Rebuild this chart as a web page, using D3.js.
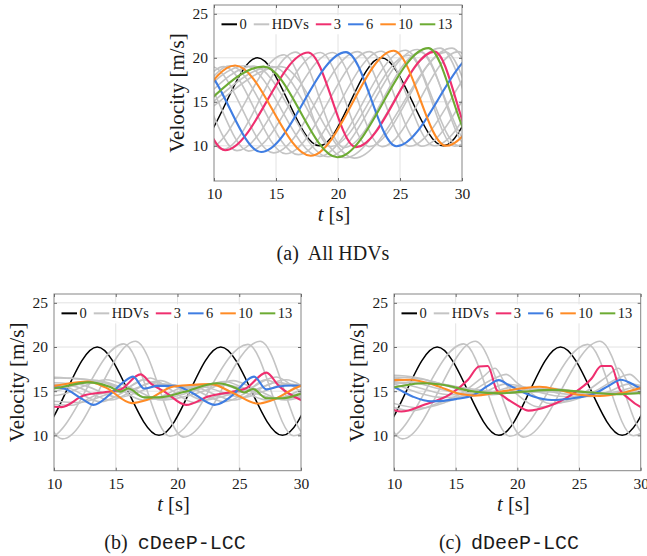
<!DOCTYPE html>
<html>
<head>
<meta charset="utf-8">
<script src="https://cdn.jsdelivr.net/npm/d3@7"></script>
<style>
  body { margin: 0; background: #fff; }
  text { fill: #1a1a1a; }
  .serif, .serif text { font-family: "Liberation Serif", "DejaVu Serif", serif; }
  .mono { font-family: "Liberation Mono", "DejaVu Sans Mono", monospace; }
</style>
</head>
<body>
<svg id="fig" width="647" height="556"></svg>
<script>
/*
  velocity profiles of a mixed platoon, three cases
  every series is a list of [t, v] points
  (mostly turning points); d3.curveMonotoneX joins them,
  points outside 10..30 are only there to settle the ends
*/

var tTicks = [10, 15, 20, 25, 30];
var vTicks = [10, 15, 20, 25];
var tDomain = [10, 30];
var vDomain = [6, 26];

var legendLabels = ["0", "HDVs", "3", "6", "10", "13"];
var legendColors = ["#000000", "#c4c4c4", "#ef2f6f", "#3f7de2", "#ff8b25", "#6cab33"];
var cavColors = ["#ef2f6f", "#3f7de2", "#ff8b25", "#6cab33"];

// head vehicle 0 (same in every case)
var leader = [[3.5,20],[8.5,10],[13.5,20],[18.5,10],[23.5,20],[28.5,10],[33.5,20],[38.5,10]];

// vehicles 1 and 2 (ahead of the first CAV, same in every case)
var hdv1 = [[0.5,10],[5.4,19.3],[9.4,9.6],[15.65,20.35],[19.4,9.9],[25.7,20.3],[29.4,9.95],[35.7,20.3],[39.5,10]];
var hdv2 = [[1.5,10],[6.5,19.5],[10.7,9.6],[16.6,20.65],[20.5,9.8],[26.7,20.65],[30.5,9.9],[36.7,20.6],[40.5,10]];

// (a) all HDVs
var a4  = [[2.5,10],[7.6,19.0],[11.85,9.45],[18.6,20.6],[22.5,9.9],[28.7,20.65],[32.6,9.9],[39,20.6]];
var a5  = [[3.5,10],[8.4,19.0],[12.8,9.4],[19.6,20.6],[23.55,9.9],[29.7,20.7],[33.6,9.9],[40,20.6]];
var a7  = [[4.5,10.5],[9.8,19.0],[14.8,9.2],[21.6,20.7],[25.75,9.95],[32.5,20.7],[36.5,10]];
var a8  = [[1,19],[6.0,12.0],[10.8,19.0],[15.8,9.1],[22.55,20.7],[26.75,9.95],[33.5,20.8],[37.5,10]];
var a9  = [[1,19],[6.5,12.5],[11.3,19.1],[16.8,9.0],[23.5,20.75],[27.75,10.0],[34.5,20.8],[38.5,10]];
var a11 = [[0,19],[5.0,12.0],[12.5,19.1],[18.5,8.8],[25.45,20.85],[29.75,10.0],[36.4,20.9],[40.5,10]];
var a12 = [[0,19],[5.4,12.0],[13.2,19.05],[19.2,8.75],[26.4,20.95],[30.8,10.0],[37.5,21]];
var a14 = [[0,19],[6.0,12.0],[14.7,19.0],[20.6,8.65],[28.25,21.1],[32.3,10.0],[39,21]];
var a15 = [[0,19],[6.3,12.0],[15.4,19.0],[21.3,8.6],[29.2,21.1],[33.2,10.0],[40,21]];
var a3  = [[2,10],[6.8,19.0],[10.9,9.5],[17.6,20.6],[21.45,9.85],[27.8,20.7],[31.2,9.9],[37.5,20.7]];
var a6  = [[3.8,10],[8.8,19.0],[13.8,9.3],[20.65,20.65],[24.7,9.95],[31.5,20.7],[35.5,10]];
var a10 = [[1,19],[6.2,12.0],[11.7,19.13],[17.8,8.87],[24.5,20.8],[28.7,10.0],[35.5,20.8],[39.5,10]];
var a13 = [[0,19],[5.8,12.0],[14.0,19.0],[19.95,8.7],[27.3,21.1],[31.1,10.0],[38,21]];

// (b) cDeeP-LCC
var b4  = [[9,13.6],[11.4,13.4],[13.5,14.6],[15.5,15.1],[17.8,16.5],[19.3,15.3],[21.4,13.7],[23.5,14.6],[25.5,15.1],[28.0,16.6],[29.5,15.4],[31,14.0]];
var b5  = [[9,14.0],[12.0,13.7],[14.5,14.7],[16.3,15.2],[18.6,16.2],[20.0,15.4],[22.1,14.0],[24.5,14.7],[26.3,15.2],[28.8,16.3],[30.3,15.4]];
var b7  = [[9,15.6],[10.8,15.5],[13.8,13.8],[15.5,14.8],[17.2,16.3],[18.5,15.7],[20.5,15.6],[23.8,13.8],[25.5,14.8],[27.1,16.3],[28.5,15.7],[30.5,15.6]];
var b8  = [[9,15.8],[11.5,15.6],[14.6,14.0],[16.2,14.9],[18.0,16.0],[19.3,15.7],[21.3,15.5],[24.6,14.0],[26.2,14.9],[28.0,16.0],[29.3,15.7],[31,15.5]];
var b9  = [[9,16.0],[12.0,15.8],[15.3,14.3],[17.0,15.0],[18.8,15.8],[20.3,15.6],[22.0,15.5],[25.3,14.3],[27.0,15.0],[28.8,15.8],[30.3,15.6]];
var b11 = [[9,16.4],[10.5,16.5],[13.5,16.2],[15.2,15.3],[17.2,14.0],[18.5,14.3],[20.2,15.3],[23.4,15.8],[25.2,15.0],[27.3,14.0],[28.5,14.3],[30.2,15.3]];
var b12 = [[9,16.6],[11,16.5],[14.0,16.0],[15.8,15.2],[17.8,14.2],[19.2,14.5],[20.9,15.3],[24.0,15.7],[25.8,15.0],[27.9,14.2],[29.2,14.5],[31,15.3]];
var b14 = [[9,14.8],[10,15.0],[13.5,16.2],[15.5,15.4],[18.0,14.1],[19.5,14.3],[21.5,15.1],[23.8,16.1],[25.5,15.3],[28.0,14.1],[29.5,14.3],[31,15.0]];
var b15 = [[9,14.4],[10.5,14.6],[14.2,16.3],[16.2,15.4],[18.7,14.0],[20.3,14.3],[22.3,15.1],[24.5,16.2],[26.2,15.3],[28.7,14.0],[30.3,14.4]];
var b3  = [[9,13.4],[10.6,13.2],[12.4,14.5],[14.2,14.9],[15.4,15.2],[17.0,16.9],[17.9,15.8],[19.0,14.9],[20.7,13.45],[22.5,14.4],[24.5,14.95],[25.5,15.3],[27.2,17.1],[28.2,15.6],[30,14.0],[31,13.5]];
var b6  = [[9,15.6],[10.8,15.3],[12.3,14.1],[13.2,13.45],[14.5,14.6],[15.7,16.1],[16.4,16.65],[17.3,15.3],[18.4,15.6],[19.8,15.6],[21.2,14.8],[23.0,13.45],[24.5,14.6],[25.6,16.2],[26.2,16.65],[27.2,15.2],[28.1,15.5],[29.2,15.65],[30,15.6],[31,15.3]];
var b10 = [[9,15.4],[10,15.6],[12.7,16.1],[14.2,15.4],[16.3,13.65],[17.5,14.0],[19.6,15.5],[21.0,15.7],[22.7,15.8],[24.5,14.8],[26.5,13.6],[27.7,14.0],[30,15.6],[31,15.8]];
var b13 = [[9,15.2],[10,15.3],[12.8,16.0],[14.5,15.5],[15.4,14.95],[16.0,15.3],[17.3,14.3],[18.5,14.3],[20.5,14.9],[23.2,15.9],[24.8,15.3],[25.4,14.85],[26.1,15.25],[27.2,14.2],[28.5,14.2],[30,14.7],[31,15.0]];

// (c) dDeeP-LCC
var c4  = [[9,13.6],[11.4,12.8],[13.5,13.6],[15.5,14.8],[17.2,16.6],[18.2,17.6],[19.0,15.9],[20.0,14.6],[21.8,13.2],[23.5,13.7],[25.5,14.9],[27.2,16.6],[28.2,17.6],[29.0,15.9],[30,14.6],[31.8,13.2]];
var c5  = [[9,14.0],[12.2,13.1],[14.3,13.8],[16.3,15.0],[18.2,16.5],[19.1,16.9],[20.0,15.9],[21.0,14.9],[22.6,13.6],[24.3,13.9],[26.3,15.0],[28.2,16.5],[29.1,16.9],[30.0,15.9],[31,14.9]];
var c7  = [[9,16.0],[10,15.8],[12.0,14.8],[13.8,14.3],[15.8,14.4],[17.5,15.0],[19.0,15.8],[20.5,15.5],[22.0,14.8],[23.8,14.4],[25.8,14.4],[27.5,15.0],[29.0,15.8],[30.5,15.5]];
var c8  = [[9,16.3],[10,16.1],[12.5,15.2],[14.5,14.6],[16.5,14.6],[18.2,15.0],[19.8,15.5],[21.2,15.3],[22.8,14.9],[24.5,14.6],[26.5,14.6],[28.2,15.0],[29.8,15.5],[31,15.3]];
var c9  = [[9,16.6],[10,16.5],[13.0,15.5],[15.2,14.8],[17.2,14.7],[19.0,15.0],[20.8,15.4],[22.5,15.2],[25.2,14.8],[27.2,14.7],[29.0,15.0],[30.8,15.4]];
var c11 = [[9,16.7],[10,16.8],[12.0,16.5],[14.5,15.5],[16.5,14.7],[17.8,14.6],[19.5,14.9],[21.5,15.3],[23.0,15.3],[25.2,14.8],[27.2,14.6],[29.5,14.9],[31,15.2]];
var c12 = [[9,16.4],[10,16.6],[12.5,16.3],[15.0,15.4],[17.0,14.9],[18.5,14.8],[20.5,15.0],[22.5,15.2],[24.5,15.0],[27.0,14.75],[29.0,14.8],[31,15.0]];
var c14 = [[9,15.7],[10,15.9],[12.8,16.0],[15.0,15.5],[17.5,15.0],[19.5,14.8],[21.5,14.95],[23.5,15.1],[26.0,14.85],[28.5,14.7],[30.5,14.8]];
var c15 = [[9,15.9],[10,16.0],[13.2,15.9],[16.0,15.3],[18.5,14.9],[20.5,14.85],[22.5,14.95],[24.5,15.0],[27.0,14.8],[29.5,14.75],[31,14.8]];
var c3  = [[9,13.5],[10.6,12.7],[12.5,13.5],[14.5,14.6],[16.0,16.3],[16.9,17.8],[17.6,17.85],[18.3,15.2],[19.0,14.3],[20.0,13.4],[20.9,12.8],[22.5,13.3],[24.5,14.7],[26.0,16.4],[26.8,17.85],[27.6,17.85],[28.3,15.2],[29.0,14.2],[30,13.2],[31,12.8]];
var c6  = [[9,15.8],[10,15.45],[11.5,14.4],[13.0,13.85],[15.0,14.1],[16.5,14.6],[17.6,15.6],[18.5,16.25],[19.3,15.7],[20.3,15.0],[21.3,14.4],[22.8,14.0],[24.5,14.2],[26.2,14.7],[27.4,15.6],[28.4,16.3],[29.2,15.9],[30,15.3],[31,14.9]];
var c10 = [[9,16.1],[10,16.25],[11.3,16.3],[13.5,15.6],[15.3,14.7],[16.5,14.5],[18.5,14.9],[20.3,15.3],[21.8,15.5],[23.5,15.1],[25.0,14.6],[26.7,14.45],[28.5,14.8],[30,15.35],[31,15.5]];
var c13 = [[9,15.3],[10,15.45],[12.3,15.9],[13.8,15.75],[16.5,14.95],[18.5,14.75],[20.5,14.95],[22.8,15.15],[25.5,14.9],[28.3,14.65],[30,14.8],[31,14.85]];

var svg = d3.select("#fig");

function drawPanel(id, box, hdvs, cavs, tag, title, titleClass, capX, capY) {
  var x = d3.scaleLinear().domain(tDomain).range([box.x, box.x + box.w]);
  var y = d3.scaleLinear().domain(vDomain).range([box.y + box.h, box.y]);
  var g = svg.append("g").attr("class", "serif");

  // grid
  g.selectAll(".gx").data(tTicks.slice(1, -1)).enter().append("line")
    .attr("x1", function(d){ return x(d); }).attr("x2", function(d){ return x(d); })
    .attr("y1", box.y).attr("y2", box.y + box.h)
    .attr("stroke", "#e2e2e2").attr("stroke-width", 1);
  g.selectAll(".gy").data(vTicks).enter().append("line")
    .attr("x1", box.x).attr("x2", box.x + box.w)
    .attr("y1", function(d){ return y(d); }).attr("y2", function(d){ return y(d); })
    .attr("stroke", "#e2e2e2").attr("stroke-width", 1);

  // lines, clipped to the box
  g.append("clipPath").attr("id", "clip" + id).append("rect")
    .attr("x", box.x).attr("y", box.y).attr("width", box.w).attr("height", box.h);
  var line = d3.line()
    .x(function(d){ return x(d[0]); })
    .y(function(d){ return y(d[1]); })
    .curve(d3.curveMonotoneX);
  var lg = g.append("g").attr("clip-path", "url(#clip" + id + ")").attr("fill", "none");

  lg.append("path").datum(leader).attr("d", line)
    .attr("stroke", legendColors[0]).attr("stroke-width", 1.5);
  lg.selectAll(".hdv").data(hdvs).enter().append("path")
    .attr("d", line).attr("stroke", legendColors[1]).attr("stroke-width", 1.6);
  lg.selectAll(".cav").data(cavs).enter().append("path")
    .attr("d", line).attr("stroke", function(d, i){ return cavColors[i]; })
    .attr("stroke-width", 2.1);

  // legend (white patch, no border)
  var leg = g.append("g");
  leg.append("rect").attr("x", box.x + 2).attr("y", y(25) + 1.5)
    .attr("width", box.w - 4).attr("height", 19).attr("fill", "#fff");
  var lx = box.x + 7.5, ly = y(25) + 10.5;
  legendLabels.forEach(function(lab, i){
    leg.append("line").attr("x1", lx).attr("x2", lx + 15.5)
      .attr("y1", ly).attr("y2", ly)
      .attr("stroke", legendColors[i]).attr("stroke-width", 2);
    var t = leg.append("text").attr("x", lx + 18).attr("y", ly + 4.8)
      .attr("font-size", 14.5).text(lab);
    lx += 18 + t.node().getComputedTextLength() + 7;
  });

  // box
  g.append("rect").attr("x", box.x).attr("y", box.y)
    .attr("width", box.w).attr("height", box.h)
    .attr("fill", "none").attr("stroke", "#858585").attr("stroke-width", 1);

  // axes with inward ticks
  var ax = g.append("g").attr("transform", "translate(0," + (box.y + box.h) + ")")
    .call(d3.axisBottom(x).tickValues(tTicks).tickSize(-3).tickPadding(7));
  var ay = g.append("g").attr("transform", "translate(" + box.x + ",0)")
    .call(d3.axisLeft(y).tickValues(vTicks).tickSize(-3).tickPadding(6));
  var at = g.append("g").attr("transform", "translate(0," + box.y + ")")
    .call(d3.axisTop(x).tickValues(tTicks).tickSize(-3).tickFormat(""));
  var ar = g.append("g").attr("transform", "translate(" + (box.x + box.w) + ",0)")
    .call(d3.axisRight(y).tickValues(vTicks).tickSize(-3).tickFormat(""));
  [ax, ay, at, ar].forEach(function(a){
    a.attr("font-family", null);
    a.select(".domain").remove();
    a.selectAll(".tick line").attr("stroke", "#6a6a6a");
    a.selectAll("text").attr("font-size", 15.5).attr("fill", "#1a1a1a");
  });

  // axis titles
  var xl = g.append("text").attr("x", box.x + box.w / 2 - 4).attr("y", box.y + box.h + 40)
    .attr("text-anchor", "middle").attr("font-size", 20.5);
  xl.append("tspan").attr("font-style", "italic").text("t");
  xl.append("tspan").text("\u00a0[s]");
  g.append("text")
    .attr("transform", "translate(" + (box.x - 30) + "," + (box.y + box.h / 2) + ") rotate(-90)")
    .attr("text-anchor", "middle").attr("font-size", 21)
    .text("Velocity [m/s]");

  // caption
  var cap = svg.append("text").attr("class", "serif").attr("x", capX).attr("y", capY)
    .attr("text-anchor", "middle").attr("font-size", 20);
  cap.append("tspan").text(tag + "\u00a0 ");
  cap.append("tspan").attr("class", titleClass).text(title);
}

drawPanel("a", {x: 214, y: 5, w: 248, h: 176},
  [hdv1, hdv2, a4, a5, a7, a8, a9, a11, a12, a14, a15], [a3, a6, a10, a13],
  "(a)", "All HDVs", "serif", 333, 260);
drawPanel("b", {x: 54, y: 294, w: 247, h: 176.7},
  [hdv1, hdv2, b4, b5, b7, b8, b9, b11, b12, b14, b15], [b3, b6, b10, b13],
  "(b)", "cDeeP-LCC", "mono", 175, 549);
drawPanel("c", {x: 394, y: 294, w: 246.7, h: 176.7},
  [hdv1, hdv2, c4, c5, c7, c8, c9, c11, c12, c14, c15], [c3, c6, c10, c13],
  "(c)", "dDeeP-LCC", "mono", 509, 549);
</script>
</body>
</html>
